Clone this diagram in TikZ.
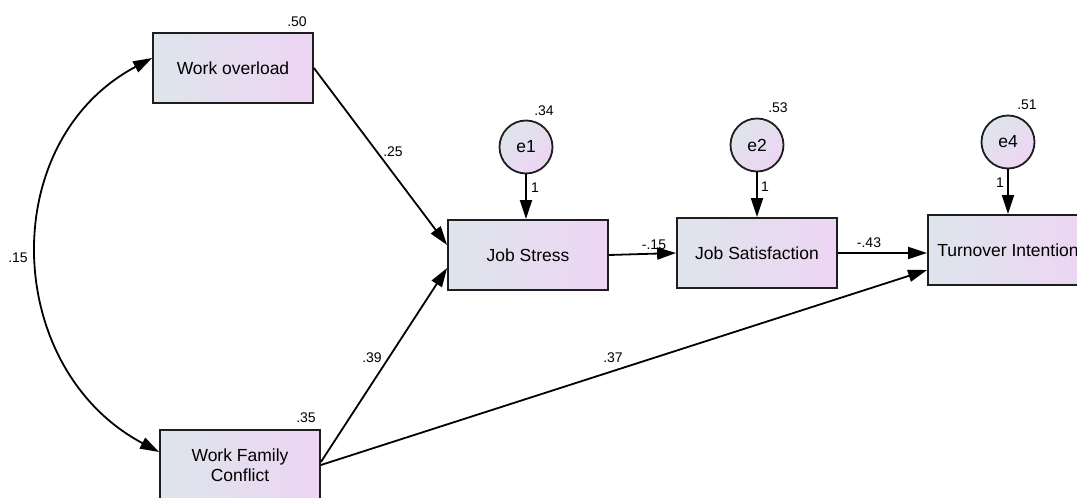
\documentclass[tikz,border=0pt]{standalone}
\usepackage{fontspec}
\setmainfont{Liberation Sans}
\usetikzlibrary{arrows.meta,shapes.geometric}
\definecolor{gl}{RGB}{222,229,236}
\definecolor{gr}{RGB}{237,213,243}
\definecolor{ink}{RGB}{30,30,30}
\tikzset{
  var/.style={draw=ink, line width=1.8pt, minimum width=160pt, minimum height=70pt,
    left color=gl, right color=gr, font=\fontsize{17.5}{20}\selectfont, align=center, inner sep=2pt},
  err/.style={circle, draw=ink, line width=1.8pt, minimum size=53pt, inner sep=0pt,
    left color=gl, right color=gr, shading angle=45, font=\fontsize{17.5}{20}\selectfont},
  num/.style={font=\fontsize{14}{16}\selectfont, inner sep=0pt, text=black},
  path/.style={line width=1.8pt, draw=black, -{Triangle[length=19pt,width=12pt]}},
  dpath/.style={line width=1.8pt, draw=black, {Triangle[length=19pt,width=12pt]}-{Triangle[length=19pt,width=12pt]}}
}
\begin{document}
\begin{tikzpicture}[x=1pt,y=-1pt]
\useasboundingbox (0,0) rectangle (1077,498);
\clip (0,0) rectangle (1077,498);
\fill[white] (0,0) rectangle (1077,498);

\node[var] (wo) at (233,68) {Work overload};
\node[var] (wfc) at (240,465) {Work Family\\Conflict};
\node[var] (js) at (528,255) {Job Stress};
\node[var] (jsat) at (757,253) {Job Satisfaction};
\node[var] (ti) at (1008,250) {Turnover Intention};

\node[err] (e1) at (526,147) {e1};
\node[err] (e2) at (757,145) {e2};
\node[err] (e4) at (1008,142) {e4};

% paths
\draw[dpath] ([yshift=10pt]wo.west) to[out=208,in=152,looseness=1.15] ([yshift=13pt]wfc.west);
\draw[path] (wo.east) -- ([yshift=10pt]js.west);
\draw[path] ([yshift=3pt]wfc.east) -- ([yshift=-13pt]js.west);
\draw[path] (wfc.east) -- ([yshift=-20pt]ti.west);
\draw[path] (js.east) -- (jsat.west);
\draw[path] (jsat.east) -- (jsat.east -| ti.west);
\draw[path] (e1.south) -- (e1.south |- js.north);
\draw[path] (e2.south) -- (e2.south |- jsat.north);
\draw[path] (e4.south) -- (e4.south |- ti.north);

% labels
\node[num] (l50) at (297,22) {.50};
\node[num] (l35) at (306,418) {.35};
\node[num] (l34) at (544,111) {.34};
\node[num] (l53) at (778,108) {.53};
\node[num] (l51) at (1027,105) {.51};
\node[num] (l15) at (18,258) {.15};
\node[num] (l25) at (393,152) {.25};
\node[num] (l39) at (372,358) {.39};
\node[num] (l37) at (613,358) {.37};
\node[num] (lm15) at (654,245) {-.15};
\node[num] (lm43) at (869,243) {-.43};
\node[num] (o1) at (535,188) {1};
\node[num] (o2) at (765,187) {1};
\node[num] (o4) at (1000,183) {1};
\end{tikzpicture}
\end{document}
